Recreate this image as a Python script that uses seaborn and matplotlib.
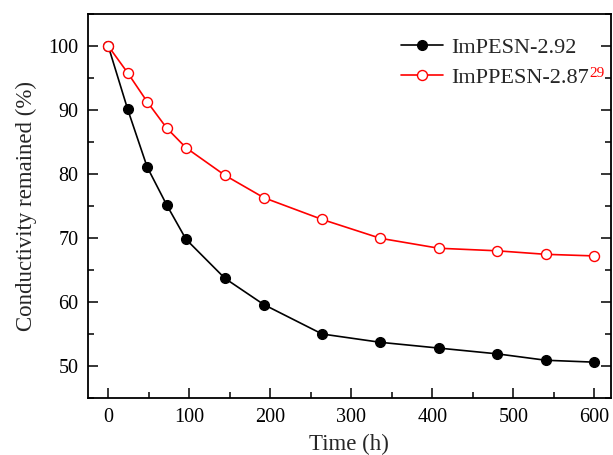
import matplotlib
matplotlib.use("Agg")
import matplotlib.pyplot as plt
import seaborn as sns
import pandas as pd
from matplotlib.ticker import MultipleLocator

time_h = [0, 24, 48, 72, 96, 144, 192, 264, 336, 408, 480, 540, 600]
impesn = [100, 90.1, 81.1, 75.2, 69.8, 63.7, 59.6, 55.0, 53.7, 52.8, 51.9, 50.9, 50.6]
imppesn = [100, 95.8, 91.3, 87.2, 84.1, 79.8, 76.3, 72.9, 69.95, 68.4, 68.0, 67.45, 67.2]
label_a = "ImPESN-2.92"
label_b = "ImPPESN-2.87"
ref_sup = "29"
x_label = "Time (h)"
y_label = "Conductivity remained (%)"

df_a = pd.DataFrame({"t": time_h, "v": impesn})
df_b = pd.DataFrame({"t": time_h, "v": imppesn})

sns.set_style("ticks")
plt.rcParams["font.family"] = ["Liberation Serif", "DejaVu Serif"]

fig = plt.figure(figsize=(6.13, 4.55), dpi=100)
ax = fig.add_axes([88 / 613, 1 - 398 / 455, (610.5 - 88) / 613, (398 - 14) / 455])

sns.lineplot(data=df_a, x="t", y="v", ax=ax, color="black", linewidth=1.2,
             marker="o", markersize=7.0, markerfacecolor="black",
             markeredgecolor="black", markeredgewidth=1.0, label=label_a)
sns.lineplot(data=df_b, x="t", y="v", ax=ax, color="red", linewidth=1.2,
             marker="o", markersize=7.2, markerfacecolor="white",
             markeredgecolor="red", markeredgewidth=1.0, label=label_b)

ax.set_xlim(-25, 620)
ax.set_ylim(45, 105)
ax.xaxis.set_major_locator(MultipleLocator(100))
ax.xaxis.set_minor_locator(MultipleLocator(50))
ax.yaxis.set_major_locator(MultipleLocator(10))
ax.yaxis.set_minor_locator(MultipleLocator(5))
ax.tick_params(which="both", direction="in", left=True, right=True,
               bottom=True, top=False, width=1.1, colors="black",
               labelsize=14.5)
ax.tick_params(which="major", length=7.5)
ax.tick_params(which="minor", length=4)
ax.tick_params(axis="x", pad=7)
ax.tick_params(axis="y", pad=7)
for s in ax.spines.values():
    s.set_visible(True)
    s.set_linewidth(1.3)
    s.set_color("black")

ax.set_xlabel(x_label, fontsize=16.5, labelpad=5)
ax.set_ylabel(y_label, fontsize=16.5, labelpad=8)

leg = ax.legend(loc="upper left", frameon=False, fontsize=16,
                handlelength=1.9, labelspacing=0.45, handletextpad=0.35,
                bbox_to_anchor=(0.582, 0.963), borderaxespad=0.0)

fig.canvas.draw()
txt = leg.get_texts()[1]
bb = txt.get_window_extent()
inv = fig.transFigure.inverted()
x0, y0 = inv.transform((bb.x1, bb.y1 + 2))
fig.text(x0 + 0.001, y0, ref_sup, color="red", fontsize=11,
         ha="left", va="top")

fig.savefig("out.png", dpi=100)
